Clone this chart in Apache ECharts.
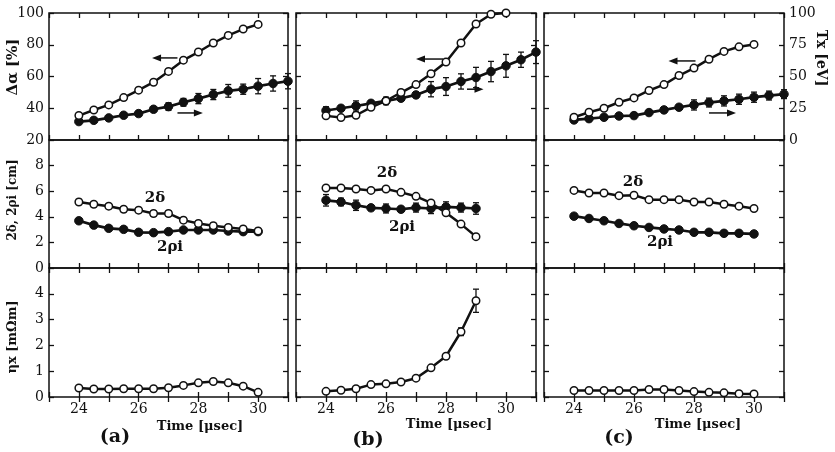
<!DOCTYPE html>
<html>
<head>
<meta charset="utf-8">
<style>html,body{margin:0;padding:0;background:#fff;} #main{width:835px;height:452px;}</style>
<script src="https://cdn.jsdelivr.net/npm/echarts@6/dist/echarts.min.js"></script>
</head>
<body>
<div id="main"></div>
<script>
var dom = document.getElementById('main');
var myChart = echarts.init(dom, null, { renderer: 'canvas' });

// time axes (usec)
var times = [24, 24.5, 25, 25.5, 26, 26.5, 27, 27.5, 28, 28.5, 29, 29.5, 30];
var timesLong = [24, 24.5, 25, 25.5, 26, 26.5, 27, 27.5, 28, 28.5, 29, 29.5, 30, 30.5, 31];
var timesB = [24, 24.5, 25, 25.5, 26, 26.5, 27, 27.5, 28, 28.5, 29];

// top row: delta alpha [%] (open) and Tx [eV] (filled, right axis)
var alphaA = [35.4, 38.9, 42.1, 46.7, 51.4, 56.4, 63.2, 70.3, 75.4, 81.1, 85.9, 89.9, 92.8];
var alphaB = [35.2, 34.1, 35.6, 40.6, 44.6, 49.9, 54.9, 61.7, 69.1, 81.1, 93.1, 99.2, 100];
var alphaC = [34.3, 37.5, 40.0, 43.8, 46.5, 51.2, 54.9, 60.6, 65.3, 70.9, 75.8, 78.7, 80.2];
var tempA = [14.5, 15.5, 17.4, 19.5, 20.8, 24.2, 26.3, 29.7, 32.6, 35.8, 38.7, 40.0, 42.4, 44.5, 46.3];
var tempErrA = [1, 1, 1, 1.5, 2, 2, 3, 3, 4, 4, 5, 4, 6, 6, 6];
var tempB = [23.2, 25.0, 26.8, 28.9, 30.8, 32.9, 35.5, 40.0, 42.1, 46.1, 49.2, 53.9, 58.4, 63.2, 69.2];
var tempErrB = [3, 2, 4, 2, 3, 2, 2, 6, 7, 6, 8, 8, 9, 6, 9];
var tempC = [15.8, 16.8, 17.9, 18.9, 19.2, 21.6, 23.7, 25.8, 27.6, 29.5, 30.8, 32.1, 33.7, 35.0, 36.1];
var tempErrC = [1, 1.5, 1, 1, 2, 1, 1, 1.5, 4, 3.5, 4, 4, 4, 3.5, 3.5];

// middle row: 2 delta (open) and 2 rho_i (filled) [cm]
var deltaA = [5.16, 4.98, 4.83, 4.59, 4.52, 4.26, 4.26, 3.74, 3.48, 3.30, 3.17, 3.05, 2.89];
var rhoA = [3.69, 3.35, 3.10, 3.02, 2.79, 2.76, 2.84, 2.97, 2.97, 2.97, 2.89, 2.84, 2.84];
var deltaB = [6.25, 6.25, 6.17, 6.06, 6.17, 5.91, 5.60, 5.08, 4.31, 3.43, 2.45];
var rhoB = [5.29, 5.16, 4.90, 4.70, 4.65, 4.59, 4.72, 4.65, 4.77, 4.72, 4.65];
var rhoErrB = [0.45, 0.3, 0.4, 0.2, 0.35, 0.2, 0.35, 0.4, 0.4, 0.35, 0.45];
var deltaC = [6.06, 5.86, 5.86, 5.65, 5.68, 5.34, 5.34, 5.34, 5.16, 5.16, 4.98, 4.83, 4.65];
var rhoC = [4.05, 3.87, 3.69, 3.48, 3.30, 3.17, 3.05, 2.97, 2.79, 2.79, 2.71, 2.71, 2.66];

// bottom row: eta_x [mOhm m]
var etaA = [0.35, 0.31, 0.31, 0.32, 0.32, 0.32, 0.36, 0.45, 0.55, 0.60, 0.55, 0.42, 0.18];
var etaB = [0.22, 0.26, 0.32, 0.48, 0.51, 0.58, 0.73, 1.13, 1.58, 2.53, 3.73];
var etaErrB = [0.03, 0.03, 0.03, 0.03, 0.03, 0.03, 0.04, 0.06, 0.1, 0.15, 0.45];
var etaC = [0.25, 0.25, 0.25, 0.25, 0.25, 0.29, 0.29, 0.25, 0.21, 0.18, 0.16, 0.13, 0.12];

// direction arrows: [fromX, toX, y]
var arrowsLeft = [[27.3, 26.45, 71.7], [27.9, 27.0, 71], [28.05, 27.15, 69.8]];
var arrowsRight = [[27.3, 28.15, 21.3], [28.7, 29.25, 40], [28.5, 29.4, 21.3]];

var colLeft = [49, 296, 544];
var colWidth = [239, 240, 240];
var rowTop = [13, 140, 268];
var rowHeight = [127, 128, 129];
var font = 'DejaVu Serif';

function pairs(xs, ys) {
    return ys.map(function (v, i) { return [xs[i], v]; });
}
function errs(xs, ys, es) {
    return ys.map(function (v, i) { return [xs[i], v - es[i], v + es[i]]; });
}
function constErr(ys, e) {
    return ys.map(function () { return e; });
}

function renderErr(params, api) {
    var x = api.value(0);
    var p1 = api.coord([x, api.value(1)]);
    var p2 = api.coord([x, api.value(2)]);
    var w = 3;
    var st = { stroke: '#111', lineWidth: 1.3 };
    return {
        type: 'group',
        children: [
            { type: 'line', shape: { x1: p1[0], y1: p1[1], x2: p2[0], y2: p2[1] }, style: st },
            { type: 'line', shape: { x1: p1[0] - w, y1: p1[1], x2: p1[0] + w, y2: p1[1] }, style: st },
            { type: 'line', shape: { x1: p2[0] - w, y1: p2[1], x2: p2[0] + w, y2: p2[1] }, style: st }
        ]
    };
}

// arrow: shaft + filled triangular head, positioned through the axes
function renderArrow(params, api) {
    var p1 = api.coord([api.value(0), api.value(2)]);
    var p2 = api.coord([api.value(1), api.value(2)]);
    var dir = p2[0] > p1[0] ? 1 : -1;
    var hl = 9, hw = 3.5;
    return {
        type: 'group',
        children: [
            { type: 'line', shape: { x1: p1[0], y1: p1[1], x2: p2[0] - dir * hl * 0.8, y2: p2[1] }, style: { stroke: '#111', lineWidth: 1.5 } },
            { type: 'polygon', shape: { points: [[p2[0], p2[1]], [p2[0] - dir * hl, p2[1] - hw], [p2[0] - dir * hl, p2[1] + hw]] }, style: { fill: '#111' } }
        ]
    };
}

var grids = [], xAxes = [], yAxes = [], series = [];
var yRange = [[20, 100, 20], [0, 10, 2], [0, 5, 1]];

for (var r = 0; r < 3; r++) {
    for (var c = 0; c < 3; c++) {
        var g = r * 3 + c;
        grids.push({ left: colLeft[c], top: rowTop[r], width: colWidth[c], height: rowHeight[r], show: true, borderColor: '#111', borderWidth: 1.5 });
        [false, true].forEach(function (isTop) {
            xAxes.push({
                type: 'value', gridIndex: g, min: 23, max: 31, interval: 1,
                position: isTop ? 'top' : 'bottom',
                axisLine: { show: false },
                axisTick: { inside: true, length: 5, lineStyle: { color: '#111', width: 1.3 } },
                splitLine: { show: false },
                axisLabel: {
                    show: !isTop && r === 2, color: '#111', fontFamily: font, fontSize: 14, margin: 5,
                    formatter: function (v) { return (v % 2 === 0) ? String(v) : ''; }
                }
            });
        });
        var rng = yRange[r];
        yAxes.push({
            type: 'value', gridIndex: g, min: rng[0], max: rng[1], interval: rng[2], position: 'left',
            axisLine: { show: false },
            axisTick: { inside: true, length: 5, lineStyle: { color: '#111', width: 1.3 } },
            splitLine: { show: false },
            axisLabel: {
                show: c === 0, color: '#111', fontFamily: font, fontSize: 14, margin: 5,
                showMaxLabel: r === 0, showMinLabel: true
            }
        });
        if (r === 0) {
            yAxes.push({
                type: 'value', gridIndex: g, min: 0, max: 100, interval: 25, position: 'right',
                axisLine: { show: false },
                axisTick: { inside: true, length: 5, lineStyle: { color: '#111', width: 1.3 } },
                splitLine: { show: false },
                axisLabel: { show: c === 2, color: '#111', fontFamily: font, fontSize: 14, margin: 5 }
            });
        } else {
            yAxes.push({
                type: 'value', gridIndex: g, min: rng[0], max: rng[1], interval: rng[2], position: 'right',
                axisLine: { show: false },
                axisTick: { inside: true, length: 5, lineStyle: { color: '#111', width: 1.3 } },
                splitLine: { show: false },
                axisLabel: { show: false }
            });
        }
    }
}

function openLine(g, data, yRight) {
    return {
        type: 'line', xAxisIndex: 2 * g, yAxisIndex: 2 * g + (yRight ? 1 : 0), data: data,
        symbol: 'circle', symbolSize: 7.5, clip: false, z: 5,
        lineStyle: { color: '#111', width: 2.5 },
        itemStyle: { color: '#fff', borderColor: '#111', borderWidth: 1.5 }
    };
}
function filledLine(g, data, yRight) {
    return {
        type: 'line', xAxisIndex: 2 * g, yAxisIndex: 2 * g + (yRight ? 1 : 0), data: data,
        symbol: 'circle', symbolSize: 8.5, clip: false, z: 4,
        lineStyle: { color: '#111', width: 2.7 },
        itemStyle: { color: '#111', borderColor: '#111', borderWidth: 1 }
    };
}
function errBars(g, data, yRight) {
    return {
        type: 'custom', xAxisIndex: 2 * g, yAxisIndex: 2 * g + (yRight ? 1 : 0),
        renderItem: renderErr, data: data, encode: { x: 0, y: [1, 2] }, z: 3, clip: false
    };
}
function arrowSeries(g, a, yRight) {
    return {
        type: 'custom', xAxisIndex: 2 * g, yAxisIndex: 2 * g + (yRight ? 1 : 0),
        renderItem: renderArrow, data: [a], encode: { x: [0, 1], y: 2 }, z: 6, silent: true
    };
}

// top row
for (var k = 0; k < 3; k++) {
    series.push(arrowSeries(k, arrowsLeft[k], false));
    series.push(arrowSeries(k, arrowsRight[k], true));
}
series.push(openLine(0, pairs(times, alphaA), false));
series.push(filledLine(0, pairs(timesLong, tempA), true));
series.push(errBars(0, errs(timesLong, tempA, tempErrA), true));

series.push(openLine(1, pairs(times, alphaB), false));
series.push(filledLine(1, pairs(timesLong, tempB), true));
series.push(errBars(1, errs(timesLong, tempB, tempErrB), true));

series.push(openLine(2, pairs(times, alphaC), false));
series.push(filledLine(2, pairs(timesLong, tempC), true));
series.push(errBars(2, errs(timesLong, tempC, tempErrC), true));

// middle row
series.push(openLine(3, pairs(times, deltaA)));
series.push(errBars(3, errs(times, deltaA, constErr(deltaA, 0.2))));
series.push(filledLine(3, pairs(times, rhoA)));
series.push(errBars(3, errs(times, rhoA, constErr(rhoA, 0.18))));

series.push(openLine(4, pairs(timesB, deltaB)));
series.push(errBars(4, errs(timesB, deltaB, constErr(deltaB, 0.15))));
series.push(filledLine(4, pairs(timesB, rhoB)));
series.push(errBars(4, errs(timesB, rhoB, rhoErrB)));

series.push(openLine(5, pairs(times, deltaC)));
series.push(errBars(5, errs(times, deltaC, constErr(deltaC, 0.18))));
series.push(filledLine(5, pairs(times, rhoC)));
series.push(errBars(5, errs(times, rhoC, constErr(rhoC, 0.18))));

// bottom row
series.push(openLine(6, pairs(times, etaA)));
series.push(openLine(7, pairs(timesB, etaB)));
series.push(errBars(7, errs(timesB, etaB, etaErrB)));
series.push(openLine(8, pairs(times, etaC)));

function txt(x, y, text, size, rot, bold) {
    return {
        type: 'text', x: x, y: y, rotation: rot || 0, z: 20,
        style: {
            text: text, fill: '#111', align: 'center', verticalAlign: 'middle',
            font: (bold === false ? '' : 'bold ') + size + 'px "' + font + '"'
        }
    };
}

var option = {
    animation: false,
    backgroundColor: '#fff',
    grid: grids,
    xAxis: xAxes,
    yAxis: yAxes,
    series: series,
    graphic: [
        txt(13, 67, 'Δα [%]', 15, Math.PI / 2),
        txt(13, 200, '2δ, 2ρi [cm]', 12, Math.PI / 2),
        txt(13, 337, 'ηx [mΩm]', 13, Math.PI / 2),
        txt(821, 58, 'Tx [eV]', 14, -Math.PI / 2),
        txt(155, 198, '2δ', 15), txt(170, 247, '2ρi', 15),
        txt(387, 173, '2δ', 15), txt(402, 227, '2ρi', 15),
        txt(633, 182, '2δ', 15), txt(660, 242, '2ρi', 15),
        txt(200, 427, 'Time [μsec]', 13), txt(449, 425, 'Time [μsec]', 13), txt(698, 425, 'Time [μsec]', 13),
        txt(115, 437, '(a)', 19), txt(368, 440, '(b)', 19), txt(619, 438, '(c)', 19)
    ]
};

if (option && typeof option === 'object') {
    myChart.setOption(option);
}

window.addEventListener('resize', myChart.resize);
</script>
</body>
</html>
